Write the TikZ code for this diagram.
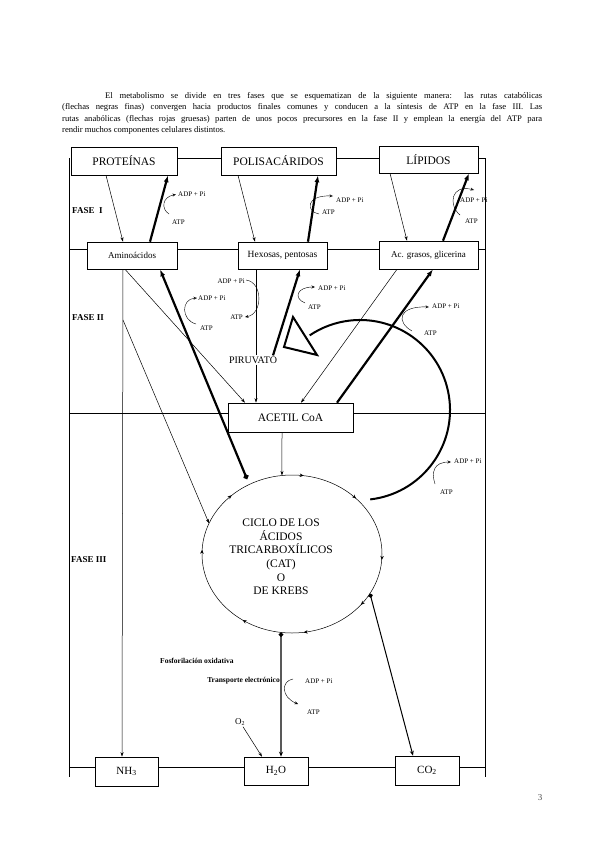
\documentclass[tikz,border=0pt]{standalone}
\usepackage{fontspec}
\setmainfont{Liberation Serif}
\usetikzlibrary{arrows.meta,decorations.markings,calc}
\begin{document}
\begin{tikzpicture}[x=1pt,y=-1pt,
  box/.style={draw,line width=0.6pt,inner sep=0pt,font=\fontsize{11.5}{13}\selectfont},
  frame/.style={line width=0.7pt},
  cat/.style={line width=0.5pt,-{Stealth[length=4.5pt,width=3pt]}},
  ana/.style={line width=2.2pt,-{Latex[length=7pt,width=5pt]}},
  curl/.style={line width=0.4pt,-{Stealth[length=3.5pt,width=3pt,open]}},
  tiny/.style={font=\fontsize{7}{8}\selectfont,inner sep=0pt},
  fase/.style={font=\fontsize{9}{10}\selectfont\bfseries,inner sep=0pt,anchor=west},
]
\useasboundingbox (0,0) rectangle (600,848);

% paragraph
\node[anchor=north west,inner sep=0pt,text width=480pt,align=justify,
      font=\fontsize{8.6}{11.5}\selectfont] (para) at (62,92)
 {\hspace*{43pt}El metabolismo se divide en tres fases que se esquematizan de la siguiente manera: las rutas catabólicas\linebreak
 (flechas negras finas) convergen hacia productos finales comunes y conducen a la síntesis de ATP en la fase III. Las\linebreak
 rutas anabólicas (flechas rojas gruesas) parten de unos pocos precursores en la fase II y emplean la energía del ATP para\linebreak
 rendir muchos componentes celulares distintos.};

% boxes
\node[box,minimum width=106,minimum height=28] (prot) at (124,161) {PROTEÍNAS};
\node[box,minimum width=115,minimum height=28] (polis) at (278.5,161) {POLISACÁRIDOS};
\node[box,minimum width=99,minimum height=27] (lip) at (428.5,159.5) {LÍPIDOS};
\node[box,minimum width=90,minimum height=27,font=\fontsize{9}{10}\selectfont] (amino) at (132,255.5) {Aminoácidos};
\node[box,minimum width=89,minimum height=27,font=\fontsize{9.5}{10}\selectfont] (hex) at (282.5,255.5) {Hexosas, pentosas};
\node[box,minimum width=99,minimum height=28,font=\fontsize{9}{10}\selectfont] (acg) at (428.5,255) {Ac. grasos, glicerina};
\node[box,minimum width=125,minimum height=29] (acetil) at (290.5,417.5) {ACETIL CoA};
\node[box,minimum width=63,minimum height=29,font=\fontsize{11}{12}\selectfont] (nh3) at (126.5,771.5) {NH\textsubscript{3}};
\node[box,minimum width=64,minimum height=28,font=\fontsize{11}{12}\selectfont] (h2o) at (276,771) {H\textsubscript{2}O};
\node[box,minimum width=64,minimum height=29,font=\fontsize{11}{12}\selectfont] (co2) at (427,770.5) {CO\textsubscript{2}};

% frame
\coordinate (fTL) at (69.5,158);
\coordinate (fBL) at (69.5,777);
\coordinate (fTR) at (485,158);
\coordinate (fBR) at (485,777);
\coordinate (r2) at (0,249);
\coordinate (r3) at (0,413);
\coordinate (r4) at (0,767);
\draw[frame] (fTL) -- (fBL);
\draw[frame] (fTR) -- (fBR);
\draw[frame] (prot.east|-fTL) -- (polis.west|-fTL);
\draw[frame] (polis.east|-fTL) -- (lip.west|-fTL);
\draw[frame] (lip.east|-fTL) -- (fTR);
\draw[frame] (fTL|-r2) -- (amino.west|-r2);
\draw[frame] (amino.east|-r2) -- (hex.west|-r2);
\draw[frame] (hex.east|-r2) -- (acg.west|-r2);
\draw[frame] (acg.east|-r2) -- (fTR|-r2);
\draw[frame] (fTL|-r3) -- (acetil.west|-r3);
\draw[frame] (acetil.east|-r3) -- (fTR|-r3);
\draw[frame] (fTL|-r4) -- (nh3.west|-r4);
\draw[frame] (nh3.east|-r4) -- (h2o.west|-r4);
\draw[frame] (h2o.east|-r4) -- (co2.west|-r4);
\draw[frame] (co2.east|-r4) -- (fTR|-r4);

% phase labels
\node[fase] (f1) at (72,211) {FASE\ \ I};
\node[fase] (f2) at (72,318) {FASE II};
\node[fase] (f3) at (71,560) {FASE III};

% Krebs cycle
\coordinate (kc) at (292,554);
\draw[line width=0.5pt,postaction={decorate},decoration={markings,
  mark=at position 0.011 with {\arrow{Stealth[length=4pt,width=3.5pt]}},
  mark=at position 0.106 with {\arrow{Stealth[length=4pt,width=3.5pt]}},
  mark=at position 0.228 with {\arrow{Stealth[length=4pt,width=3.5pt]}},
  mark=at position 0.347 with {\arrow{Stealth[length=4pt,width=3.5pt]}},
  mark=at position 0.508 with {\arrow{Stealth[length=4pt,width=3.5pt]}},
  mark=at position 0.628 with {\arrow{Stealth[length=4pt,width=3.5pt]}},
  mark=at position 0.772 with {\arrow{Stealth[length=4pt,width=3.5pt]}},
  mark=at position 0.881 with {\arrow{Stealth[length=4pt,width=3.5pt]}}}]
  (382,554) arc[start angle=0,end angle=360,x radius=90,y radius=79];
\node[align=center,font=\fontsize{11.5}{13.6}\selectfont,inner sep=0pt] (krebs) at (281,557)
  {CICLO DE LOS\\ ÁCIDOS\\ TRICARBOXÍLICOS\\ (CAT)\\ O\\ DE KREBS};
\coordinate (kA) at (247,479);
\coordinate (kB) at ($(kc)+({90*cos(202.8)},{79*sin(202.8)})$);
\coordinate (kTop) at ($(kc)+({90*cos(263.6)},{79*sin(263.6)})$);
\coordinate (kBot) at ($(kc)+({90*cos(97)},{79*sin(97)})$);
\coordinate (kCO) at ($(kc)+({90*cos(30)},{79*sin(30)})$);
\coordinate (arcS) at (370.2,499.4);
\coordinate (br) at (123,320);

% phase I connectors
\draw[cat] ([xshift=-18pt]prot.south) -- ([xshift=-9pt]amino.north);
\draw[ana] ([xshift=18pt]amino.north) -- ([xshift=44pt]prot.south);
\draw[cat] ([xshift=-40.5pt]polis.south) -- ([xshift=-27.5pt]hex.north);
\draw[ana] ([xshift=25.5pt]hex.north) -- ([xshift=39.5pt]polis.south);
\draw[cat] ([xshift=-38.5pt]lip.south) -- ([xshift=-21.5pt]acg.north);
\draw[ana] ([xshift=14.5pt]acg.north) -- ([xshift=40.5pt]lip.south);

% phase II connectors
\node[font=\fontsize{10}{11}\selectfont,inner sep=1pt] (piru) at (253,360) {PIRUVATO};
\draw[cat] ([xshift=-9pt]amino.south) -- ([xshift=-4.5pt]nh3.north);
\draw[cat] ([xshift=-7pt]amino.south) -- ([xshift=-45.5pt]acetil.north);
\draw[cat] (br) -- (kB);
\draw[line width=0.5pt] ([xshift=-26.5pt]hex.south) -- ([xshift=3pt]piru.north);
\draw[cat] ([xshift=3pt]piru.south) -- ([xshift=-34.5pt]acetil.north);
\draw[ana] ([xshift=20pt]piru.north) -- ([xshift=17.5pt]hex.south);
\draw[cat] ([xshift=-31.5pt]acg.south) -- ([xshift=10.5pt]acetil.north);
\draw[ana] ([xshift=46.5pt]acetil.north) -- ([xshift=4.5pt]acg.south);
\draw[cat] ([xshift=-8.5pt]acetil.south) -- (kTop);
\draw[ana,{Circle[length=5pt]}-{Latex[length=7pt,width=5pt]}] (kA) -- ([xshift=28pt]amino.south);

% big anabolic arc to pyruvate
\draw[line width=2pt] (arcS) arc[start angle=83.5,end angle=-124,radius=90];
\draw[line width=2pt,line join=miter] (293,317) -- (284,347) -- (317,355) -- cycle;

% phase III connectors
\draw[line width=1.4pt,{Circle[length=4.5pt]}-{Stealth[length=5pt,width=4pt]}] (kBot) -- ([xshift=5pt]h2o.north);
\draw[line width=1pt,{Circle[length=4.5pt]}-{Stealth[length=5pt,width=4pt]}] (kCO) -- ([xshift=-14pt]co2.north);
\node[font=\fontsize{9}{10}\selectfont,inner sep=1pt] (o2) at (240,722) {O\textsubscript{2}};
\draw[cat] (o2) -- ([xshift=-14pt]h2o.north);
\node[tiny,anchor=west,font=\fontsize{7.5}{8}\selectfont\bfseries] (fosf) at (160,661) {Fosforilación oxidativa};
\node[tiny,anchor=east,font=\fontsize{7.5}{8}\selectfont\bfseries] (trans) at (280,681) {Transporte electrónico};

% ADP / ATP labels and curls
\node[tiny,anchor=west] (adp1) at (178,194) {ADP + Pi};
\node[tiny,anchor=west] (atp1) at (172,222) {ATP};
\draw[curl] (169,214) .. controls (161,209) and (162,197) .. (176,194.5);
\node[tiny,anchor=west] (adp2) at (336,200) {ADP + Pi};
\node[tiny,anchor=west] (atp2) at (322,212) {ATP};
\draw[curl] (319,214) .. controls (306,212) and (305,195) .. (333,196);
\node[tiny,anchor=west] (adp3) at (460,200) {ADP + Pi};
\node[tiny,anchor=west] (atp3) at (465,221) {ATP};
\draw[curl] (460,215) .. controls (448,205) and (451,184) .. (474,190);
\node[tiny,anchor=west] (adp4) at (198,298) {ADP + Pi};
\node[tiny,anchor=west] (atp4) at (200,328) {ATP};
\draw[curl] (196,324) .. controls (181,320) and (181,299) .. (197,298);
\node[tiny,anchor=east] (adp5) at (245,281) {ADP + Pi};
\node[tiny,anchor=east] (atp5) at (243,317) {ATP};
\draw[curl] (246,280) .. controls (263,282) and (263,314) .. (245,317);
\node[tiny,anchor=west] (adp6) at (318,288) {ADP + Pi};
\node[tiny,anchor=west] (atp6) at (308,307) {ATP};
\draw[curl] (305,303) .. controls (293,298) and (297,287) .. (315,287);
\node[tiny,anchor=west] (adp7) at (432,306) {ADP + Pi};
\node[tiny,anchor=west] (atp7) at (424,333) {ATP};
\draw[curl] (412,331) .. controls (396,322) and (398,306) .. (429,307);
\node[tiny,anchor=west] (adp8) at (454,461) {ADP + Pi};
\node[tiny,anchor=west] (atp8) at (440,492) {ATP};
\draw[curl] (435,484) .. controls (431,472) and (434,462) .. (451,462);
\node[tiny,anchor=west] (adp9) at (305,681) {ADP + Pi};
\node[tiny,anchor=west] (atp9) at (307,712) {ATP};
\draw[curl] (293,679) .. controls (281,681) and (281,697) .. (298,704);

% page number
\node[font=\fontsize{9}{10}\selectfont,text=black!70,inner sep=0pt] (pg) at (540,798) {3};
\end{tikzpicture}
\end{document}
